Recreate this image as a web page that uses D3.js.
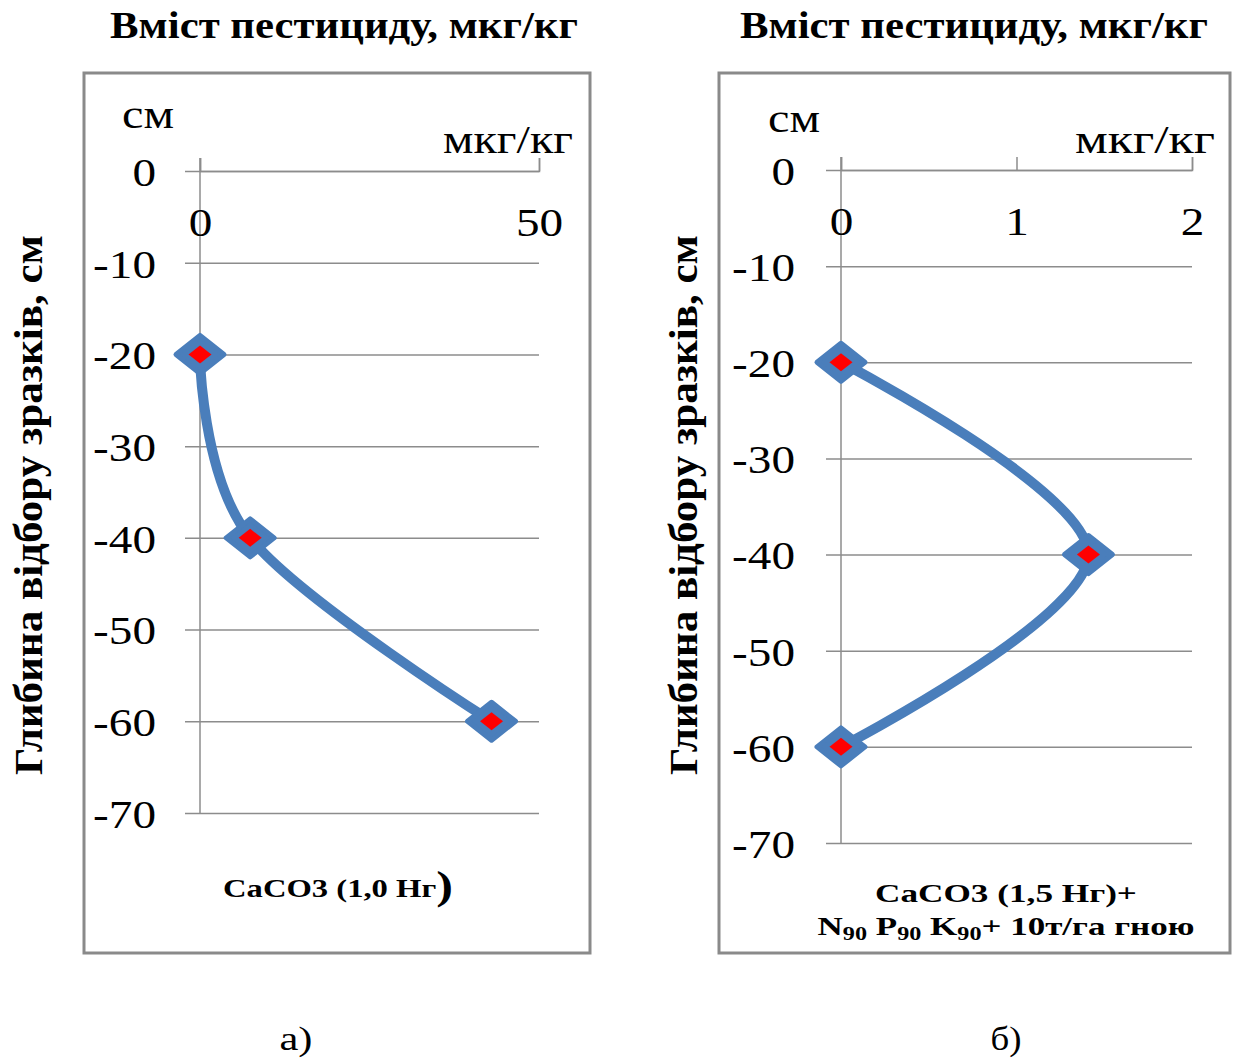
<!DOCTYPE html>
<html>
<head>
<meta charset="utf-8">
<script src="https://cdn.jsdelivr.net/npm/d3@7"></script>
<style>
    body { margin: 0; background: #fff; }
    svg { display: block; }
</style>
</head>
<body>
<div id="chart"></div>
<script>
"use strict";

// Values
const depth_ticks = [0, -10, -20, -30, -40, -50, -60, -70];

const depths_a = [-20, -40, -60];
const values_a = [0, 7.4, 43];
const x_ticks_a = [0, 50];

const depths_b = [-20, -40, -60];
const values_b = [0, 1.41, 0];
const x_ticks_b = [0, 1, 2];

const title_text = "Вміст пестициду, мкг/кг";
const y_title_text = "Глибина відбору зразків, см";
const captions = ["а)", "б)"];

const WIDTH = 1242;
const HEIGHT = 1061;
const SERIF = "'Liberation Serif', 'Times New Roman', serif";
const LINE_BLUE = "#4a7ebb";
const GRID_GREY = "#8c8c8c";

// The picture is a bit wider than tall, the glyphs too
const X_STRETCH = 1.18;

// plain hyphen for negatives, as in the original
const plain_number = function (d) { return String(d); };

const svg = d3.select("#chart").append("svg")
    .attr("width", WIDTH)
    .attr("height", HEIGHT)
    .style("background-color", "white");

// scale a text node horizontally around its own x anchor
function stretch(node, sx) {
    const x = +(node.getAttribute("x") || 0);
    node.setAttribute("transform", "translate(" + x + ",0) scale(" + sx + ",1) translate(" + (-x) + ",0)");
}

function fit_width(node, width) {
    const natural = node.getComputedTextLength();
    stretch(node, width / natural);
}

function add_label(parent, x, y, str, size, weight, anchor, width) {
    const t = parent.append("text")
        .attr("x", x)
        .attr("y", y)
        .attr("text-anchor", anchor)
        .attr("font-family", SERIF)
        .attr("font-size", size)
        .attr("font-weight", weight)
        .attr("fill", "#000")
        .text(str);
    if (width) fit_width(t.node(), width);
    return t;
}

function draw_panel(p) {
    const g = svg.append("g");

    // Frame around the chart area
    g.append("rect")
        .attr("x", p.frame[0])
        .attr("y", p.frame[1])
        .attr("width", p.frame[2] - p.frame[0])
        .attr("height", p.frame[3] - p.frame[1])
        .attr("fill", "white")
        .attr("stroke", "#8a8a8a")
        .attr("stroke-width", 3);

    const x_scale = d3.scaleLinear().domain(p.x_domain).range(p.x_range);
    const y_scale = d3.scaleLinear().domain([0, -70]).range(p.y_range);

    const grid_len = p.x_range[1] - p.x_range[0] + 15;

    // Depth axis: gridlines and labels from one axis placed at the right end
    const y_axis = d3.axisLeft(y_scale)
        .tickValues(depth_ticks)
        .tickSize(grid_len)
        .tickPadding(p.y_label_right_gap)
        .tickFormat(plain_number);

    const yg = g.append("g")
        .attr("transform", "translate(" + p.x_range[1] + ",0)")
        .call(y_axis);
    yg.select(".domain").remove();
    yg.selectAll(".tick line")
        .attr("stroke", GRID_GREY)
        .attr("stroke-width", 1.5);
    yg.selectAll(".tick text")
        .attr("font-family", SERIF)
        .attr("font-size", 40)
        .attr("fill", "#000")
        .attr("dy", "0.36em")
        .each(function () { stretch(this, X_STRETCH); });

    // Vertical axis line at zero
    g.append("line")
        .attr("x1", x_scale(0))
        .attr("x2", x_scale(0))
        .attr("y1", y_scale(0) - 13)
        .attr("y2", y_scale(-70))
        .attr("stroke", GRID_GREY)
        .attr("stroke-width", 1.5);

    // Concentration axis along the zero line, ticks pointing up
    const x_axis = d3.axisTop(x_scale)
        .tickValues(p.x_ticks)
        .tickSize(13)
        .tickSizeOuter(13)
        .tickFormat("");
    const xg = g.append("g")
        .attr("transform", "translate(0," + y_scale(0) + ")")
        .call(x_axis);
    xg.selectAll("path, line")
        .attr("stroke", GRID_GREY)
        .attr("stroke-width", 1.5);

    // ...and its labels below the line
    const x_labels = d3.axisBottom(x_scale)
        .tickValues(p.x_ticks)
        .tickSize(0)
        .tickPadding(37)
        .tickFormat(plain_number);
    const xl = g.append("g")
        .attr("transform", "translate(0," + y_scale(0) + ")")
        .call(x_labels);
    xl.select(".domain").remove();
    xl.selectAll(".tick text")
        .attr("font-family", SERIF)
        .attr("font-size", 40)
        .attr("fill", "#000")
        .each(function () { stretch(this, X_STRETCH); });

    // Smoothed series line
    const points = p.values.map(function (v, i) { return [v, p.depths[i]]; });
    const line = d3.line()
        .x(function (d) { return x_scale(d[0]); })
        .y(function (d) { return y_scale(d[1]); })
        .curve(d3.curveCardinal.tension(0));

    g.append("path")
        .datum(points)
        .attr("d", line)
        .attr("fill", "none")
        .attr("stroke", LINE_BLUE)
        .attr("stroke-width", 10)
        .attr("stroke-linecap", "round");

    // Diamond markers: blue with a red centre
    const diamond = function (hw, hh) {
        return "M0," + (-hh) + "L" + hw + ",0L0," + hh + "L" + (-hw) + ",0Z";
    };
    const markers = g.selectAll(".marker")
        .data(points)
        .join("g")
        .attr("class", "marker")
        .attr("transform", function (d) { return "translate(" + x_scale(d[0]) + "," + y_scale(d[1]) + ")"; });
    markers.append("path")
        .attr("d", diamond(24, 19))
        .attr("fill", LINE_BLUE)
        .attr("stroke", LINE_BLUE)
        .attr("stroke-width", 5)
        .attr("stroke-linejoin", "round");
    markers.append("path")
        .attr("d", diamond(11.5, 9))
        .attr("fill", "#ff0000");

    // Unit labels
    add_label(g, p.cm_pos[0], p.cm_pos[1], "см", 40, "normal", "start", 52);
    add_label(g, p.unit_pos[0], p.unit_pos[1], "мкг/кг", 40, "normal", "end", p.unit_pos[2]);

    // Chart title above the frame
    add_label(svg, p.title_pos[0], p.title_pos[1], title_text, 38, "bold", "middle", 468);

    // Rotated depth title
    const yt = svg.append("g")
        .attr("transform", "translate(" + p.y_title_pos[0] + "," + p.y_title_pos[1] + ") rotate(-90)");
    add_label(yt, 0, 0, y_title_text, 40, "bold", "middle", 540);

    // Caption under the chart
    add_label(svg, p.caption_pos[0], p.caption_pos[1], p.caption, 34, "normal", "middle", p.caption_pos[2]);

    return g;
}

const panel_a = draw_panel({
    frame: [84, 73, 590, 953],
    x_domain: [0, 50],
    x_range: [200, 539],
    y_range: [171, 813],
    y_label_right_gap: 29,
    x_ticks: x_ticks_a,
    values: values_a,
    depths: depths_a,
    cm_pos: [122, 128],
    unit_pos: [573, 153, 130],
    title_pos: [344, 38],
    y_title_pos: [42, 505],
    caption: captions[0],
    caption_pos: [296, 1050, 33]
});

const panel_b = draw_panel({
    frame: [719, 73, 1230, 953],
    x_domain: [0, 2],
    x_range: [841, 1192],
    y_range: [170, 843],
    y_label_right_gap: 31,
    x_ticks: x_ticks_b,
    values: values_b,
    depths: depths_b,
    cm_pos: [768, 132],
    unit_pos: [1215, 153, 140],
    title_pos: [974, 38],
    y_title_pos: [697, 505],
    caption: captions[1],
    caption_pos: [1006, 1050, 31]
});

// Legend texts (series names)
const legend_a = panel_a.append("text")
    .attr("x", 338)
    .attr("y", 897)
    .attr("text-anchor", "middle")
    .attr("font-family", SERIF)
    .attr("font-weight", "bold")
    .attr("font-size", 26)
    .attr("fill", "#000");
legend_a.append("tspan").text("CaCO3 (1,0 Нг");
legend_a.append("tspan").attr("font-size", 40).attr("dy", 2).text(")");
fit_width(legend_a.node(), 230);

const legend_b1 = add_label(panel_b, 1006, 902, "CaCO3 (1,5 Нг)+", 26, "bold", "middle", 262);

const legend_b2 = panel_b.append("text")
    .attr("x", 1006)
    .attr("y", 935)
    .attr("text-anchor", "middle")
    .attr("font-family", SERIF)
    .attr("font-weight", "bold")
    .attr("font-size", 26)
    .attr("fill", "#000");
[["N", "90"], [" P", "90"], [" K", "90"]].forEach(function (pair, i) {
    legend_b2.append("tspan").attr("dy", i === 0 ? 0 : -5).text(pair[0]);
    legend_b2.append("tspan").attr("font-size", 18).attr("dy", 5).text(pair[1]);
});
legend_b2.append("tspan").attr("dy", -5).text("+ 10т/га гною");
fit_width(legend_b2.node(), 377);
</script>
</body>
</html>
